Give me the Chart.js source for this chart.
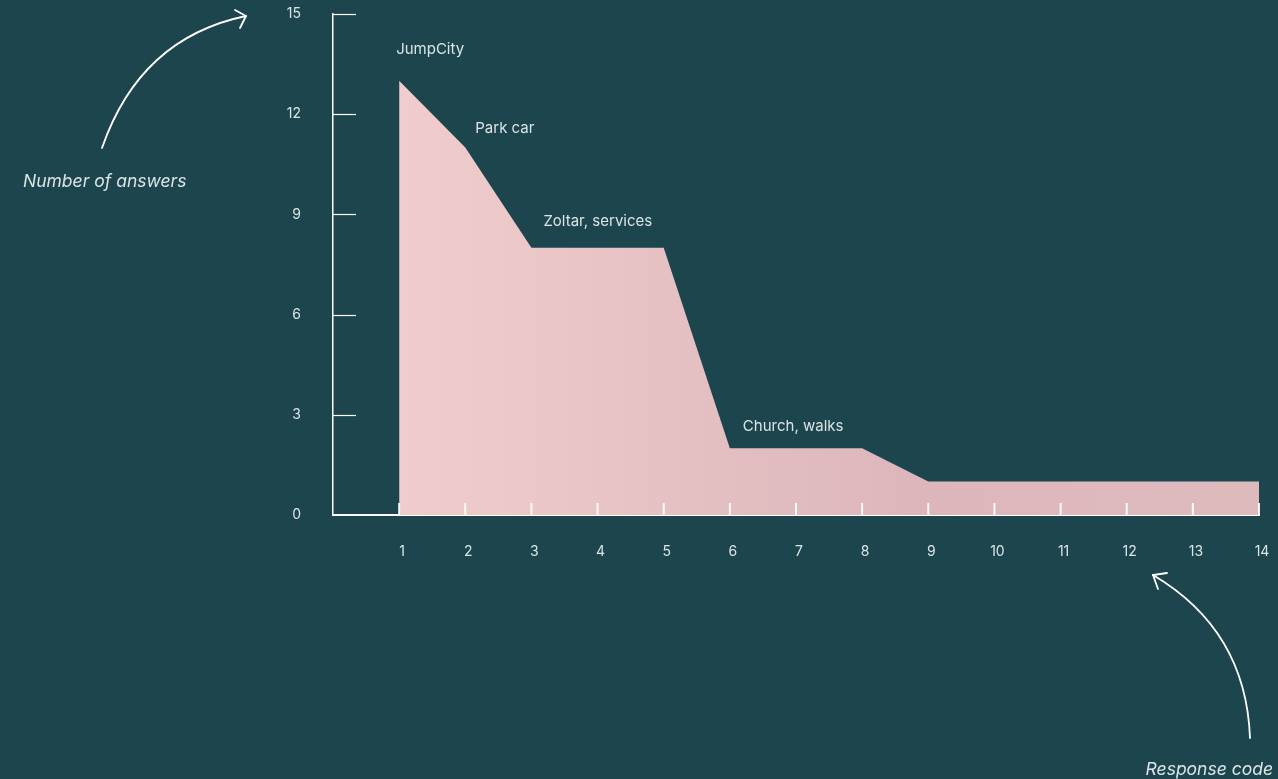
<!DOCTYPE html>
<html>
<head>
<meta charset="utf-8">
<script src="https://cdn.jsdelivr.net/npm/chart.js@4"></script>
<style>
  html, body { margin: 0; padding: 0; background: #1c454e; overflow: hidden; }
  canvas { display: block; }
</style>
</head>
<body>
<canvas id="chart" width="1278" height="779"></canvas>
<script>
// Данные графика
const responseCodes = [1, 2, 3, 4, 5, 6, 7, 8, 9, 10, 11, 12, 13, 14];
const answerCounts = [13, 11, 8, 8, 8, 2, 2, 2, 1, 1, 1, 1, 1, 1];
const yTickValues = [0, 3, 6, 9, 12, 15];
// подписи над точками (индекс точки -> текст)
const noteIndexes = [0, 1, 2, 5];
const noteTexts = ['JumpCity', 'Park car', 'Zoltar, services', 'Church, walks'];
const yTitle = 'Number of answers';
const xTitle = 'Response code';

const textColor = '#dbe4e5';
const fontFamily = 'Inter, Roboto, sans-serif';

// Рисуем засечки внутрь графика, подписи и стрелки
const decorPlugin = {
  id: 'decor',
  afterDraw(chart) {
    const ctx = chart.ctx;
    const x = chart.scales.x, y = chart.scales.y;
    const area = chart.chartArea;
    ctx.save();

    // засечки оси Y (внутрь)
    ctx.strokeStyle = '#ffffff';
    ctx.lineWidth = 1.2;
    yTickValues.forEach(v => {
      if (v === 0) return;
      const py = Math.round(y.getPixelForValue(v)) + 0.5;
      ctx.beginPath();
      ctx.moveTo(area.left, py);
      ctx.lineTo(area.left + 23, py);
      ctx.stroke();
    });

    // засечки оси X (вверх)
    ctx.strokeStyle = 'rgba(255,255,255,0.9)';
    ctx.lineWidth = 2;
    responseCodes.forEach(v => {
      const px = x.getPixelForValue(v);
      ctx.beginPath();
      ctx.moveTo(px, area.bottom);
      ctx.lineTo(px, area.bottom - 12);
      ctx.stroke();
    });

    // подписи у точек
    const meta = chart.getDatasetMeta(0);
    const offs = [[-3, -31], [10, -19], [12, -26], [13, -22]];
    ctx.fillStyle = textColor;
    ctx.font = '15px ' + fontFamily;
    ctx.textBaseline = 'middle';
    ctx.textAlign = 'left';
    noteIndexes.forEach((idx, i) => {
      const pt = meta.data[idx];
      ctx.fillText(noteTexts[i], pt.x + offs[i][0], pt.y + offs[i][1]);
    });

    // подписи осей
    ctx.font = 'italic 17.5px ' + fontFamily;
    ctx.textBaseline = 'alphabetic';
    ctx.fillText(yTitle, 23, 187);
    ctx.textAlign = 'right';
    ctx.fillText(xTitle, 1273, 775);

    // стрелки
    ctx.strokeStyle = '#ffffff';
    ctx.lineWidth = 1.8;
    ctx.lineCap = 'round';
    ctx.beginPath();
    ctx.moveTo(102, 148);
    ctx.quadraticCurveTo(140, 38, 246, 16);
    ctx.stroke();
    ctx.beginPath();
    ctx.moveTo(235, 10);
    ctx.lineTo(246, 16);
    ctx.lineTo(240, 28);
    ctx.stroke();

    ctx.beginPath();
    ctx.moveTo(1250, 738);
    ctx.quadraticCurveTo(1246, 630, 1153, 575);
    ctx.stroke();
    ctx.beginPath();
    ctx.moveTo(1167, 573);
    ctx.lineTo(1153, 575);
    ctx.lineTo(1158, 589);
    ctx.stroke();

    ctx.restore();
  }
};

const ctx = document.getElementById('chart').getContext('2d');

new Chart(ctx, {
  type: 'line',
  data: {
    datasets: [{
      data: responseCodes.map((c, i) => ({ x: c, y: answerCounts[i] })),
      borderWidth: 0,
      pointRadius: 0,
      tension: 0,
      fill: 'origin',
      backgroundColor: function (context) {
        const area = context.chart.chartArea;
        if (!area) return '#e8c4c5';
        const g = context.chart.ctx.createLinearGradient(area.left + 66, 0, area.right, 0);
        g.addColorStop(0, '#f0cdcc');
        g.addColorStop(0.6, '#dcb6bb');
        g.addColorStop(1, '#dfbabd');
        return g;
      }
    }]
  },
  options: {
    responsive: false,
    animation: false,
    layout: { padding: { left: 0, top: 14, right: 19, bottom: 0 } },
    plugins: { legend: { display: false }, tooltip: { enabled: false } },
    scales: {
      x: {
        type: 'linear',
        min: 0,
        max: 14,
        afterBuildTicks: s => { s.ticks = responseCodes.map(v => ({ value: v })); },
        // фиксируем высоту оси и убираем лишние отступы от подписей
        afterFit: s => { s.height = 264; s.paddingLeft = 0; s.paddingRight = 0; },
        grid: { display: false, drawTicks: false },
        border: { display: true, color: '#ffffff', width: 2 },
        ticks: {
          color: textColor,
          font: { family: fontFamily, size: 14 },
          padding: 28,
          labelOffset: 3,
          maxRotation: 0,
          autoSkip: false
        }
      },
      y: {
        min: 0,
        max: 15,
        afterBuildTicks: s => { s.ticks = yTickValues.map(v => ({ value: v })); },
        afterFit: s => { s.width = 333; s.paddingTop = 0; s.paddingBottom = 0; },
        grid: { display: false, drawTicks: false },
        border: { display: true, color: '#ffffff', width: 1.5 },
        ticks: {
          color: textColor,
          font: { family: fontFamily, size: 14 },
          padding: 32
        }
      }
    }
  },
  plugins: [decorPlugin]
});
</script>
</body>
</html>
